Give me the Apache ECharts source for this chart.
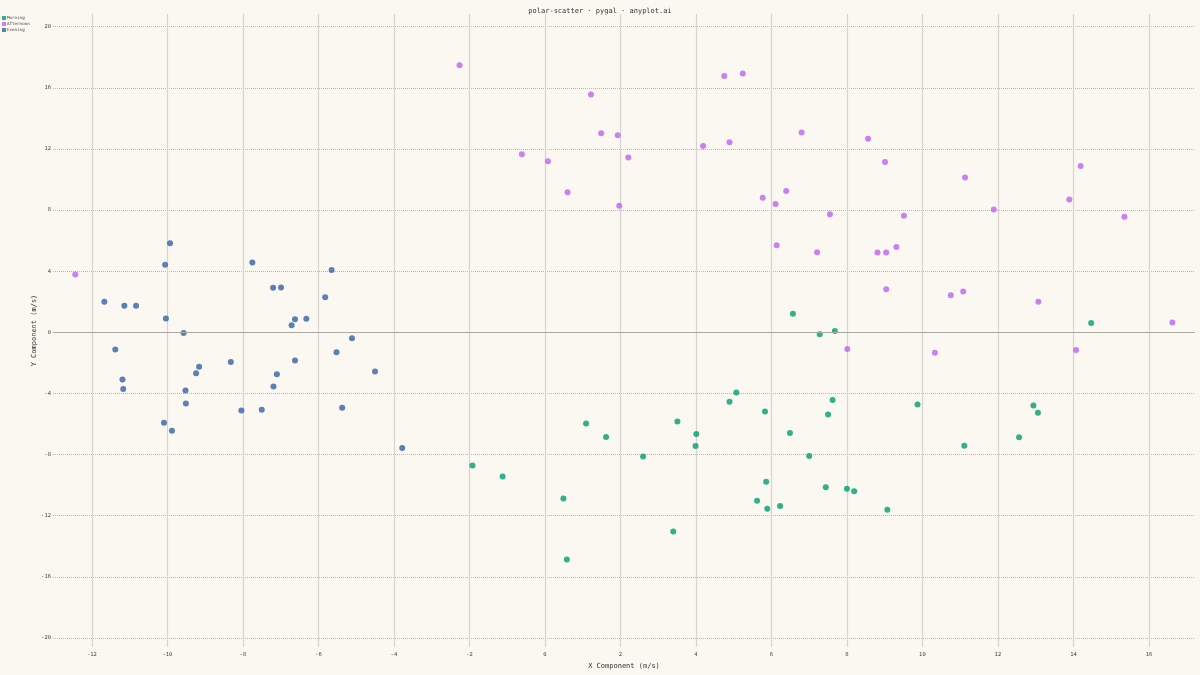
<!DOCTYPE html>
<html>
<head>
<meta charset="utf-8">
<script src="https://cdn.jsdelivr.net/npm/echarts@6/dist/echarts.min.js"></script>
<style>
  html, body { margin: 0; padding: 0; background: #FAF8F1; }
  #chart { width: 1200px; height: 675px; }
</style>
</head>
<body>
<div id="chart"></div>
<script>
// ---- Data ----
const seriesNames = ['Morning', 'Afternoon', 'Evening'];

const morningX = [-1.92, -1.12, 0.49, 0.58, 1.09, 1.62, 2.60, 3.40, 3.51, 3.99, 4.01, 4.89, 5.07, 5.62, 5.83, 5.86, 5.89, 6.23, 6.49, 6.57, 7.00, 7.28, 7.44, 7.50, 7.62, 7.68, 8.00, 8.19, 9.07, 9.87, 11.11, 12.56, 12.94, 13.06, 14.47];
const morningY = [-8.72, -9.44, -10.87, -14.87, -5.96, -6.85, -8.13, -13.03, -5.83, -7.44, -6.65, -4.55, -3.94, -11.02, -5.18, -9.77, -11.55, -11.37, -6.59, 1.21, -8.09, -0.13, -10.13, -5.38, -4.42, 0.08, -10.24, -10.40, -11.61, -4.72, -7.42, -6.87, -4.79, -5.26, 0.61];

const afternoonX = [-12.44, -2.26, -0.61, 0.08, 0.60, 1.22, 1.49, 1.93, 1.97, 2.21, 4.19, 4.75, 4.89, 5.24, 5.77, 6.11, 6.14, 6.39, 6.80, 7.21, 7.55, 8.01, 8.56, 8.81, 9.01, 9.04, 9.04, 9.31, 9.51, 10.33, 10.75, 11.08, 11.13, 11.89, 13.07, 13.89, 14.07, 14.19, 15.35, 16.62];
const afternoonY = [3.78, 17.48, 11.65, 11.20, 9.17, 15.56, 13.02, 12.89, 8.28, 11.44, 12.20, 16.78, 12.43, 16.94, 8.80, 8.39, 5.70, 9.24, 13.07, 5.24, 7.72, -1.09, 12.67, 5.22, 11.15, 5.22, 2.82, 5.58, 7.63, -1.33, 2.43, 2.67, 10.13, 8.04, 2.00, 8.69, -1.15, 10.89, 7.56, 0.65];

const eveningX = [-11.67, -11.38, -11.19, -11.17, -11.14, -10.83, -10.09, -10.06, -10.04, -9.93, -9.88, -9.57, -9.52, -9.51, -9.24, -9.16, -8.32, -8.04, -7.75, -7.50, -7.20, -7.19, -7.10, -6.99, -6.71, -6.62, -6.62, -6.32, -5.82, -5.65, -5.52, -5.37, -5.11, -4.50, -3.78];
const eveningY = [2.00, -1.13, -3.09, -3.70, 1.74, 1.74, -5.92, 4.43, 0.91, 5.83, -6.44, -0.05, -3.81, -4.66, -2.68, -2.26, -1.94, -5.11, 4.57, -5.07, 2.91, -3.55, -2.74, 2.93, 0.46, 0.85, -1.85, 0.89, 2.30, 4.08, -1.31, -4.94, -0.38, -2.57, -7.57];

const xTicks = [-12, -10, -8, -6, -4, -2, 0, 2, 4, 6, 8, 10, 12, 14, 16];
const yTicks = [-20, -16, -12, -8, -4, 0, 4, 8, 12, 16, 20];

// ---- Build ----
const zip = (xs, ys) => xs.map((x, i) => [x, ys[i]]);
const colors = ['#009E73', '#BF62F2', '#3560A8'];
const mono = '"DejaVu Sans Mono", "Liberation Mono", monospace';

const chart = echarts.init(document.getElementById('chart'), null, { renderer: 'canvas' });

const option = {
  backgroundColor: '#FAF8F1',
  animation: false,
  color: colors,
  title: {
    text: 'polar-scatter · pygal · anyplot.ai',
    left: 'center',
    top: 3,
    textStyle: { fontFamily: mono, fontSize: 7, fontWeight: 'normal', color: '#333' }
  },
  legend: {
    orient: 'vertical',
    left: 2,
    top: 16,
    padding: 0,
    itemWidth: 4,
    itemHeight: 4,
    itemGap: 2,
    icon: 'rect',
    textStyle: { fontFamily: mono, fontSize: 4.2, lineHeight: 4, color: '#444', padding: [0, 0, 0, -4] },
    data: seriesNames
  },
  grid: { left: 53, right: 5, top: 14, bottom: 26, containLabel: false },
  xAxis: {
    type: 'value',
    min: -13.03,
    max: 17.22,
    name: 'X Component (m/s)',
    nameLocation: 'middle',
    nameGap: 16,
    nameMoveOverlap: false,
    nameTextStyle: { fontFamily: mono, fontSize: 7, color: '#333' },
    axisLine: { show: false },
    axisTick: { show: false, customValues: xTicks },
    axisLabel: { customValues: xTicks, fontFamily: mono, fontSize: 5.5, color: '#444', margin: 5 },
    splitLine: { show: true, lineStyle: { color: '#d8d5ce', width: 1.2, type: 'solid' } }
  },
  yAxis: {
    type: 'value',
    min: -20.59,
    max: 20.83,
    name: 'Y Component (m/s)',
    nameLocation: 'middle',
    nameRotate: 90,
    nameGap: 15,
    nameMoveOverlap: false,
    nameTextStyle: { fontFamily: mono, fontSize: 7, color: '#333' },
    axisLine: { show: false },
    axisTick: { show: false, customValues: yTicks },
    axisLabel: { customValues: yTicks, fontFamily: mono, fontSize: 5.5, color: '#444', margin: 2 },
    splitLine: { show: true, lineStyle: { color: '#bcb9b2', width: 1, type: [1, 1] } }
  },
  series: [
    {
      name: seriesNames[0],
      type: 'scatter',
      symbolSize: 6,
      data: zip(morningX, morningY),
      itemStyle: { color: colors[0] },
      markLine: {
        silent: true,
        symbol: 'none',
        label: { show: false },
        lineStyle: { color: '#aaa8a2', type: 'solid', width: 1 },
        data: [{ yAxis: 0 }]
      },
      z: 3
    },
    {
      name: seriesNames[1],
      type: 'scatter',
      symbolSize: 6,
      data: zip(afternoonX, afternoonY),
      itemStyle: { color: colors[1] },
      z: 3
    },
    {
      name: seriesNames[2],
      type: 'scatter',
      symbolSize: 6,
      data: zip(eveningX, eveningY),
      itemStyle: { color: colors[2] },
      z: 3
    }
  ]
};

chart.setOption(option);
</script>
</body>
</html>
